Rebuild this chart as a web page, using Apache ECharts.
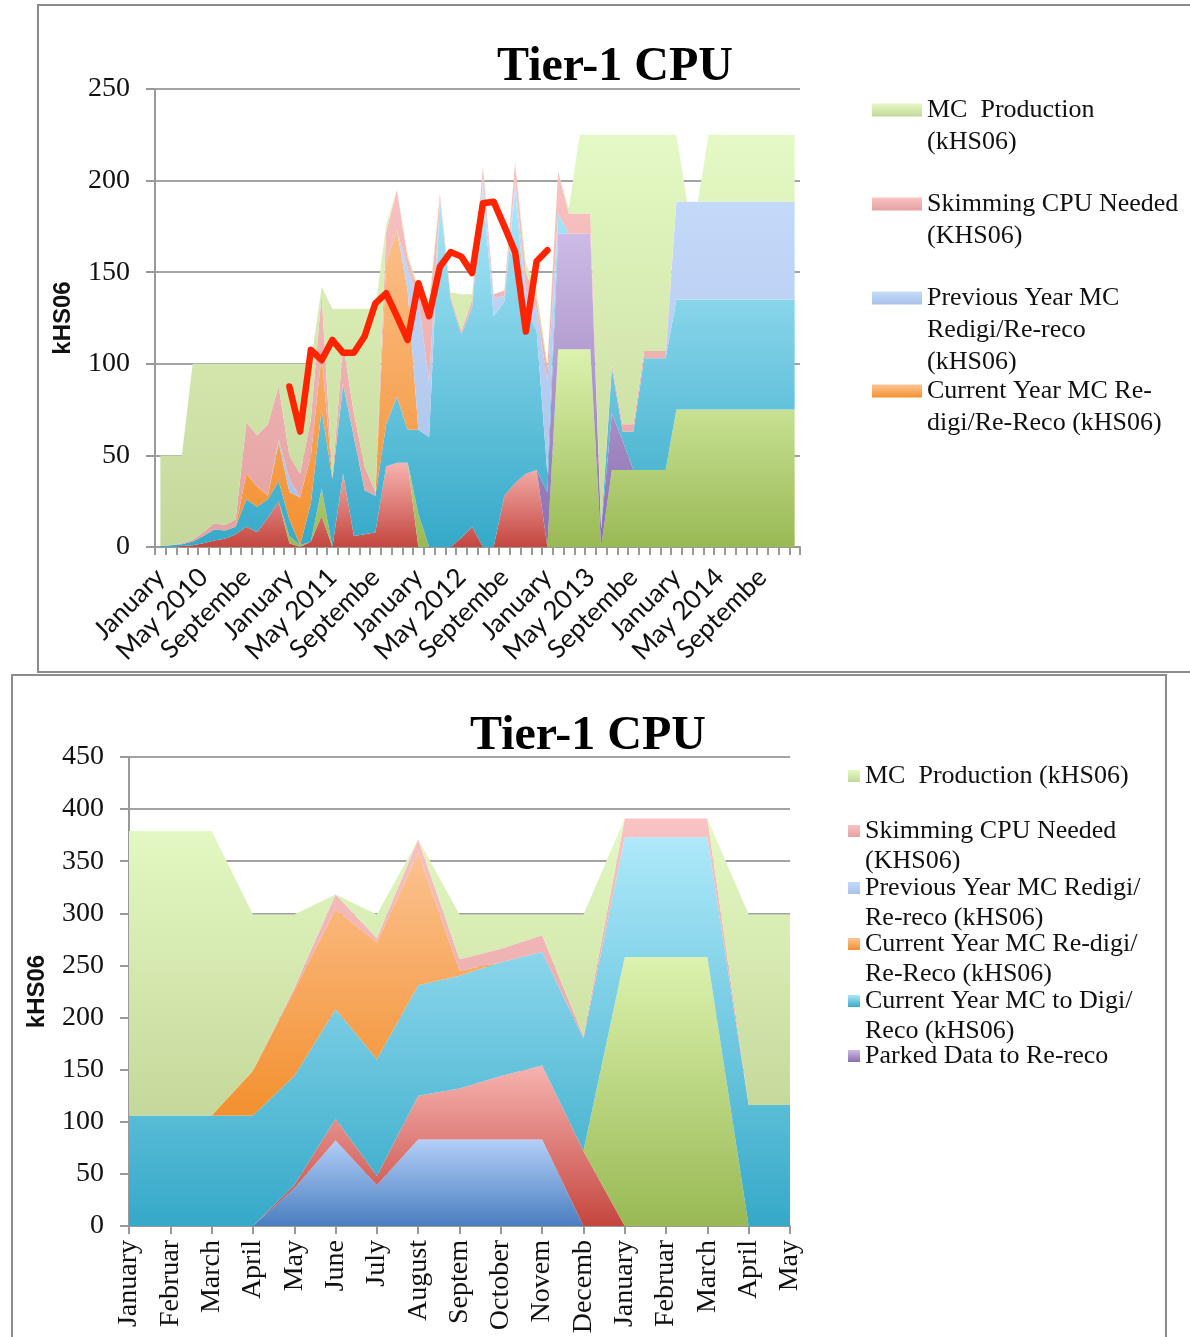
<!DOCTYPE html>
<html>
<head>
<meta charset="utf-8">
<title>Tier-1 CPU</title>
<script src="https://cdn.jsdelivr.net/npm/echarts@6/dist/echarts.min.js"></script>
<style>
  html, body { margin: 0; padding: 0; background: #fff; }
  #chart { width: 1190px; height: 1337px; }
</style>
</head>
<body>
<div id="chart"></div>
<script>
// ---------- upper chart: monthly, Jan 2010 - Dec 2014 ----------
var years = [2010, 2011, 2012, 2013, 2014];
var monthNames = ['January', 'February', 'March', 'April', 'May', 'June', 'July',
    'August', 'September', 'October', 'November', 'December'];
var topMonths = [];
years.forEach(function (y) {
    monthNames.forEach(function (m) { topMonths.push(m === 'May' ? 'May ' + y : m); });
});

// stacked bands, bottom to top (kHS06)
var topRed = [0,0,0.5,1,2,3.5,4.5,7,11,8,16,25,2,0,3,17,0,40,6,7,8,44,46,46,0,0,0,0,5,11,
    0,0,28,35,40,42,0,0,0,0,0,0,0,0,0,0,0,0,0,0,0,0,0,0,0,0,0,0,0,0];
var topGreen = [0,0,0,0,0,0,0,0,0,0,0,0,4,1,0,15,0,0,0,0,0,0,0,0,18,0,0,0,0,0,
    0,0,0,0,0,0,0,108,108,108,108,0,42,42,42,42,42,42,75,75,75,75,75,75,75,75,75,75,75,75];
var topPurple = [0,0,0,0,0,0,0,0,0,0,0,0,0,0,0,0,0,0,0,0,0,0,0,0,0,0,0,0,0,0,
    0,0,0,0,0,0,30,63,63,63,63,10,31,16,0,0,0,0,0,0,0,0,0,0,0,0,0,0,0,0];
var topAqua = [0.5,1,1,2,4,6,4.5,4,15,14,10,11,9,0,21,43,37,49,54,24,20,23,36,18,46,60,190,135,111,120,
    196,126,106,160,90,76,10,11,0,0,0,0,25,5,21,61,61,61,60,60,60,60,60,60,60,60,60,60,60,60];
var topOrange = [0,0,0,0,0,0,0,0,14,11,2,21,15,26,26,30,0,0,0,0,0,88,91,76,0,0,0,0,0,0,
    0,0,0,0,0,0,0,0,0,0,0,0,0,0,0,0,0,0,0,0,0,0,0,0,0,0,0,0,0,0];
var topLtBlue = [0,0,0,0,0,0,0,0,0,0,0,2,7,0,0,0,0,0,0,0,0,0,0,12,71,30,0,0,0,0,
    4,10,3,5,10,12,50,0,0,0,0,0,0,0,0,0,0,0,53.5,53.5,53.5,53.5,53.5,53.5,53.5,53.5,53.5,53.5,53.5,53.5];
var topPink = [0,0,0.5,1,2,3.5,3,4,28,28,39,29,13,13,20,33,1,22,13,13,2,17,22,6,5,40,3,2,2,4,
    8,2,3,10,10,5,8,23,11,11,11,0,2,4,4,4,4,4,0,0,0,0,0,0,0,0,0,0,0,0];
var topLtGreen = [49.5,49,48,96,92,87,88,85,32,39,33,12,50,60,30,4,92,19,57,86,100,4,0,2,2,5,0,2,20,3,
    0,0,0,0,5,5,2,0,3,43,43,215,125,158,158,118,118,118,36.5,0,0,36.5,36.5,36.5,36.5,36.5,36.5,36.5,36.5,36.5];
// red line
var topUsage = [null,null,null,null,null,null,null,null,null,null,null,null,
    87.6,63,107.6,102,113,106,106,115,133,138.5,126,113,144,126,153,161,158.5,149.5,
    187.6,188.5,175,161,117.6,156,162,
    null,null,null,null,null,null,null,null,null,null,null,null,null,null,null,null,null,null,null,null,null,null,null];
var topTicks = [0, 50, 100, 150, 200, 250];

// ---------- lower chart: monthly, 17 months ----------
var lowMonths = ['January', 'Februar', 'March', 'April', 'May', 'June', 'July', 'August', 'Septem',
    'October', 'Novem', 'Decemb', 'January', 'Februar', 'March', 'April', 'May'];
var lowBlue = [0,0,0,0,36,82,39,83,83,83,83,0,0,0,0,0,0];
var lowRed = [0,0,0,0,3,21,9,42,49,61,71,72,0,0,0,0,0];
var lowGreen = [0,0,0,0,0,0,0,0,0,0,0,0,258,258,258,0,0];
var lowPurple = [0,0,0,0,0,0,0,0,0,0,0,0,0,0,0,0,0];
var lowAqua = [106,106,106,106,105,105,112,106,108,109,109,108,115,115,115,116,116];
var lowOrange = [0,0,0,43,82,96,112,127,5,0,0,0,0,0,0,0,0];
var lowLtBlue = [0,0,0,0,0,0,0,0,0,0,0,0,0,0,0,0,0];
var lowPink = [0,0,0,0,2,14,4,13,11,13,16,2,18,18,18,0,0];
var lowLtGreen = [273,273,273,150,71,0,23,0,43,33,20,117,0,0,0,183,183];
var lowTicks = [0, 50, 100, 150, 200, 250, 300, 350, 400, 450];

var names = {
    purple: 'Parked Data to Re-reco',
    aqua: 'Current Year MC to Digi/Reco (kHS06)',
    orange: 'Current Year MC Re-digi/Re-Reco (kHS06)',
    ltblue: 'Previous Year MC Redigi/Re-reco (kHS06)',
    pink: 'Skimming CPU Needed (KHS06)',
    ltgreen: 'MC  Production (kHS06)'
};

// gradient top -> bottom
var palette = {
    blue: ['#b3cff8', '#4a7ec0'],
    red: ['#f7b3b0', '#c4463f'],
    green: ['#dcf2ae', '#99b954'],
    purple: ['#cdbbe6', '#8a6eb0'],
    aqua: ['#aee9fa', '#35a9c8'],
    orange: ['#fcc596', '#f3902f'],
    ltblue: ['#c5dbfb', '#a9c1e8'],
    pink: ['#fac3c3', '#e3a1a1'],
    ltgreen: ['#e4f9c4', '#c5d89b']
};

function grad(key) {
    return new echarts.graphic.LinearGradient(0, 0, 0, 1, [
        { offset: 0, color: palette[key][0] },
        { offset: 1, color: palette[key][1] }
    ]);
}

function area(key, values, idx) {
    return {
        name: names[key],
        type: 'line',
        xAxisIndex: idx,
        yAxisIndex: idx,
        stack: 'cpu' + idx,
        data: values,
        symbol: 'none',
        showSymbol: false,
        lineStyle: { width: 0 },
        itemStyle: { color: palette[key][1] },
        areaStyle: { color: grad(key), opacity: 1 },
        silent: true,
        z: 2
    };
}

var serif = '"Liberation Serif", "Times New Roman", serif';
var axisGray = '#999999';

// one legend per entry so the icon lines up with the first text line
function legendItem(key, lines, left, firstLineY, lineH, iconW, iconH) {
    var n = lines.length;
    var pad = '';
    for (var i = 1; i < n; i++) pad += '\n';
    return {
        left: left,
        top: firstLineY - (2 * n - 1) * lineH / 2,
        padding: 0,
        orient: 'vertical',
        icon: 'rect',
        itemWidth: iconW,
        itemHeight: iconH,
        selectedMode: false,
        data: [{ name: names[key], itemStyle: { color: grad(key), borderWidth: 0 } }],
        formatter: function () { return pad + lines.join('\n'); },
        textStyle: { fontFamily: serif, fontSize: 26, color: '#111', lineHeight: lineH }
    };
}

var legends = [
    legendItem('ltgreen', ['MC  Production', '(kHS06)'], 872, 110, 32, 50, 13),
    legendItem('pink', ['Skimming CPU Needed', '(KHS06)'], 872, 204, 32, 50, 13),
    legendItem('ltblue', ['Previous Year MC', 'Redigi/Re-reco', '(kHS06)'], 872, 298, 32, 50, 13),
    legendItem('orange', ['Current Year MC Re-', 'digi/Re-Reco (kHS06)'], 872, 391, 32, 50, 13),

    legendItem('ltgreen', ['MC  Production (kHS06)'], 848, 776, 30.5, 12, 12),
    legendItem('pink', ['Skimming CPU Needed', '(KHS06)'], 848, 831, 30.5, 12, 12),
    legendItem('ltblue', ['Previous Year MC Redigi/', 'Re-reco (kHS06)'], 848, 888, 30.5, 12, 12),
    legendItem('orange', ['Current Year MC Re-digi/', 'Re-Reco (kHS06)'], 848, 944, 30.5, 12, 12),
    legendItem('aqua', ['Current Year MC to Digi/', 'Reco (kHS06)'], 848, 1001, 30.5, 12, 12),
    legendItem('purple', ['Parked Data to Re-reco'], 848, 1056, 30.5, 12, 12)
];

function valueAxis(idx, ticks) {
    return {
        type: 'value',
        gridIndex: idx,
        min: ticks[0],
        max: ticks[ticks.length - 1],
        interval: ticks[1] - ticks[0],
        name: 'kHS06',
        nameLocation: 'middle',
        nameRotate: 90,
        nameGap: 80,
        nameTextStyle: { fontFamily: '"Liberation Sans", Arial, sans-serif', fontWeight: 'bold', fontSize: 24, color: '#111' },
        axisLine: { show: true, lineStyle: { color: axisGray, width: 2 } },
        axisTick: { show: true, length: 9, lineStyle: { color: axisGray, width: 2 } },
        axisLabel: { fontFamily: serif, fontSize: 28, color: '#111', margin: 25 },
        splitLine: { show: true, lineStyle: { color: '#a3a3a3', width: 2 } }
    };
}

var option = {
    animation: false,
    backgroundColor: '#fff',
    graphic: [
        { type: 'rect', shape: { x: 38, y: 5, width: 1170, height: 667 }, style: { fill: 'none', stroke: '#8c8c8c', lineWidth: 2 } },
        { type: 'rect', shape: { x: 12, y: 675, width: 1154, height: 700 }, style: { fill: 'none', stroke: '#8c8c8c', lineWidth: 2 } },
        { type: 'text', x: 615, y: 68, style: { text: 'Tier-1 CPU', font: 'bold 48px ' + serif, fill: '#000', align: 'center', verticalAlign: 'middle' } },
        { type: 'text', x: 588, y: 737, style: { text: 'Tier-1 CPU', font: 'bold 48px ' + serif, fill: '#000', align: 'center', verticalAlign: 'middle' } }
    ],
    legend: legends,
    grid: [
        { left: 155, top: 89, width: 645, height: 458, containLabel: false, outerBoundsMode: 'none' },
        { left: 129, top: 757, width: 661, height: 469, containLabel: false, outerBoundsMode: 'none' }
    ],
    xAxis: [
        {
            type: 'category',
            gridIndex: 0,
            data: topMonths,
            boundaryGap: true,
            axisLine: { lineStyle: { color: axisGray, width: 2 } },
            axisTick: { show: true, interval: 0, length: 8, lineStyle: { color: axisGray, width: 2 } },
            axisLabel: {
                interval: 3, rotate: 45, margin: 26,
                fontFamily: 'Lato, "DejaVu Sans", sans-serif', fontSize: 26, color: '#111',
                formatter: function (v) { return v.length > 8 ? v.slice(0, 8) : v; }
            },
            splitLine: { show: false }
        },
        {
            type: 'category',
            gridIndex: 1,
            data: lowMonths,
            boundaryGap: false,
            axisLine: { lineStyle: { color: axisGray, width: 2 } },
            axisTick: { show: true, interval: 0, length: 8, lineStyle: { color: axisGray, width: 2 } },
            axisLabel: { interval: 0, rotate: 90, margin: 14, fontFamily: serif, fontSize: 28, color: '#111' },
            splitLine: { show: false }
        }
    ],
    yAxis: [valueAxis(0, topTicks), valueAxis(1, lowTicks)],
    series: [
        area('red', topRed, 0),
        area('green', topGreen, 0),
        area('purple', topPurple, 0),
        area('aqua', topAqua, 0),
        area('orange', topOrange, 0),
        area('ltblue', topLtBlue, 0),
        area('pink', topPink, 0),
        area('ltgreen', topLtGreen, 0),
        {
            type: 'line',
            xAxisIndex: 0,
            yAxisIndex: 0,
            data: topUsage,
            symbol: 'none',
            showSymbol: false,
            connectNulls: false,
            lineStyle: { color: '#ff2400', width: 6.5, cap: 'round', join: 'round' },
            silent: true,
            z: 5
        },
        area('blue', lowBlue, 1),
        area('red', lowRed, 1),
        area('green', lowGreen, 1),
        area('purple', lowPurple, 1),
        area('aqua', lowAqua, 1),
        area('orange', lowOrange, 1),
        area('ltblue', lowLtBlue, 1),
        area('pink', lowPink, 1),
        area('ltgreen', lowLtGreen, 1)
    ]
};

var myChart = echarts.init(document.getElementById('chart'));
myChart.setOption(option);
</script>
</body>
</html>
